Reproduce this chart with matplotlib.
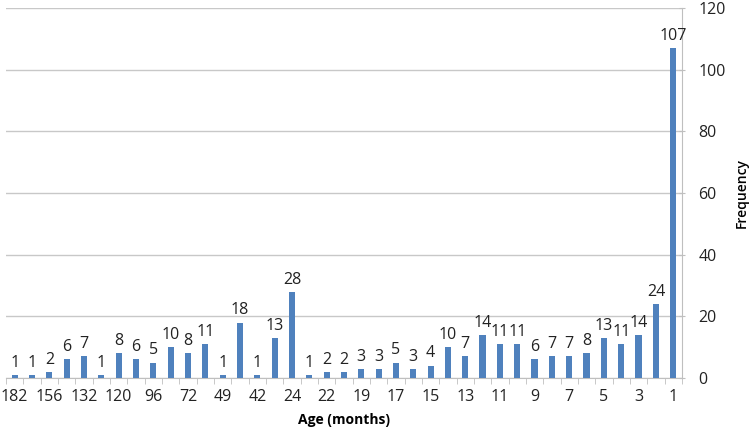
import matplotlib
matplotlib.use("Agg")
import matplotlib.pyplot as plt

# Frequency of each age category (months), oldest to youngest
frecuencias = [1, 1, 2, 6, 7, 1, 8, 6, 5, 10,
               8, 11, 1, 18, 1, 13, 28, 1, 2, 2,
               3, 3, 5, 3, 4, 10, 7, 14, 11, 11,
               6, 7, 7, 8, 13, 11, 14, 24, 107]
# Only every second category is labelled on the axis
rotulos = ["182", "156", "132", "120", "96", "72", "49", "42", "24", "22",
           "19", "17", "15", "13", "11", "9", "7", "5", "3", "1"]
y_ticks = [0, 20, 40, 60, 80, 100, 120]

plt.rcParams['font.family'] = ['Open Sans', 'DejaVu Sans']
cinza = '#BFBFBF'
azul = '#4F81BD'

fig = plt.figure(figsize=(7.56, 4.3), dpi=100)
ax = fig.add_axes([0.008, 0.121, 0.894, 0.86])

x = list(range(len(frecuencias)))
barras = ax.bar(x, frecuencias, width=0.36, color=azul, zorder=3)
ax.bar_label(barras, labels=[str(v) for v in frecuencias], padding=3, fontsize=11.5, color='#222222')

ax.set_xlim(-0.5, len(frecuencias) - 0.5)
ax.set_ylim(0, 120)

# Grid and spines like an Excel chart
ax.set_yticks(y_ticks)
ax.yaxis.grid(True, color='#C8C8C8', linewidth=1)
ax.set_axisbelow(True)
for lado in ['left', 'top']:
  ax.spines[lado].set_visible(False)
ax.spines['right'].set_color(cinza)
ax.spines['bottom'].set_color(cinza)
ax.yaxis.tick_right()
ax.tick_params(axis='y', colors=cinza, length=4, direction='inout', labelcolor='#222222', labelsize=11.5, pad=10)

# Category ticks: labels under every second bar, tick marks on boundaries
ax.set_xticks(x[::2])
ax.set_xticklabels(rotulos, fontsize=11.5, color='#222222')
ax.tick_params(axis='x', length=0, pad=8)
ax.set_xticks([i - 0.5 for i in range(len(frecuencias) + 1)], minor=True)
ax.tick_params(axis='x', which='minor', length=4, color=cinza)

ax.set_xlabel('Age (months)', fontsize=10, fontweight='bold', labelpad=6)
ax.yaxis.set_label_position('right')
ax.set_ylabel('Frequency', fontsize=10, fontweight='semibold', labelpad=6)

fig.savefig('out.png', dpi=100)
